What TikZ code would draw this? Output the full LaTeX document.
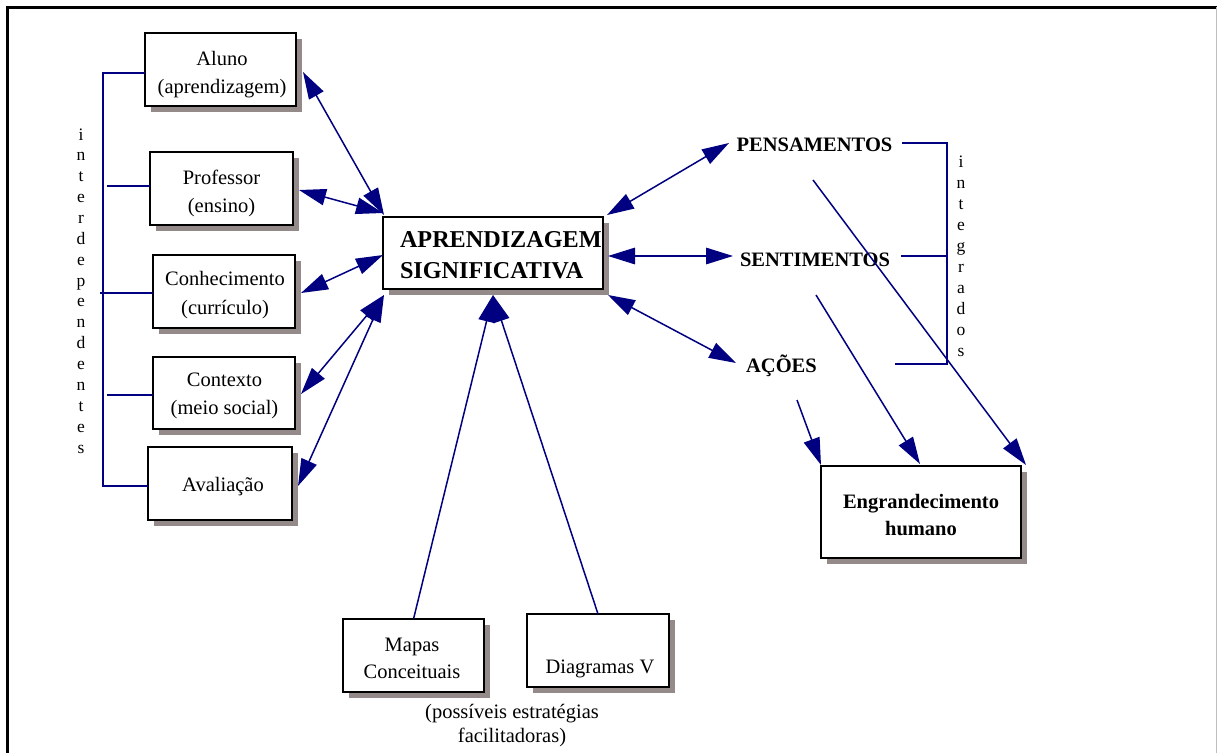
\documentclass[tikz,border=0pt]{standalone}
\usepackage{fontspec}
\setmainfont{Liberation Serif}
\usetikzlibrary{arrows.meta,calc,shadows}
\definecolor{navy}{RGB}{0,0,128}
\definecolor{shade}{RGB}{148,138,138}

\begin{document}
\begin{tikzpicture}[x=1pt,y=-1pt,
  box/.style={draw=black, line width=1.8pt, fill=white, inner sep=0pt, outer sep=0pt,
    drop shadow={shadow xshift=6pt, shadow yshift=-6pt, opacity=1, fill=shade}},
  txt/.style={inner sep=0pt, outer sep=0pt, align=center,
    font=\fontsize{20.5}{28.5}\selectfont},
  btxt/.style={inner sep=0pt, outer sep=0pt, align=center,
    font=\fontsize{20.5}{27}\selectfont\bfseries},
  vtxt/.style={inner sep=0pt, outer sep=0pt, anchor=base,
    font=\fontsize{17.5}{21}\selectfont},
  tip/.tip={Triangle[length=27pt,width=16.5pt]},
  dbl/.style={draw=navy, line width=1.5pt, tip-tip},
  sgl/.style={draw=navy, line width=1.5pt, -tip},
  brace/.style={draw=navy, line width=2pt}]

\useasboundingbox (0,0) rectangle (1217,752);

% outer frame
\draw[line width=2.2pt] (7.5,760) -- (7.5,7.5) -- (1217,7.5);
\draw[line width=1pt, black!25] (1216.5,7.5) -- (1216.5,760);

% left column of boxes
\node[box, minimum width=151, minimum height=73] (aluno) at (220.5,69.5) {};
\node[box, minimum width=143, minimum height=73] (prof)  at (221.5,188.5) {};
\node[box, minimum width=142, minimum height=73] (conh)  at (224,291.5) {};
\node[box, minimum width=142, minimum height=72] (cont)  at (224,393) {};
\node[box, minimum width=144, minimum height=73] (aval)  at (220,483.5) {};

\node[txt, anchor=north] (alunot) at (222,51) {Aluno\\(aprendizagem)};
\node[txt, anchor=north] (proft)  at (221.5,170) {Professor\\(ensino)};
\node[txt, anchor=north] (conht)  at (225,271.7) {Conhecimento\\(currículo)};
\node[txt, anchor=north] (contt)  at (224.5,372.7) {Contexto\\(meio social)};
\node[txt, anchor=base]  (avalt)  at (223,491.7) {Avaliação};

% central box
\node[box, minimum width=220, minimum height=72] (ap) at (493,253) {};
\node[inner sep=0pt, outer sep=0pt, align=left, anchor=north west,
  font=\fontsize{24.2}{31}\selectfont\bfseries] (apt) at (400,231.6)
  {APRENDIZAGEM\\SIGNIFICATIVA};

% bottom boxes and caption
\node[box, minimum width=141, minimum height=73] (mapas) at (413.5,655.5) {};
\node[box, minimum width=142, minimum height=73] (diag)  at (598,650.5) {};
\node[txt, anchor=north, font=\fontsize{20.5}{26.6}\selectfont] (mapast) at (412,638) {Mapas\\Conceituais};
\node[txt, anchor=base] (diagt) at (600,673) {Diagramas V};
\node[txt, anchor=north, font=\fontsize{20.5}{24}\selectfont] (capt) at (512,704)
  {(possíveis estratégias\\facilitadoras)};

% right side
\node[btxt, anchor=base] (pens)  at (814.5,151) {PENSAMENTOS};
\node[btxt, anchor=base] (sent)  at (815,266) {SENTIMENTOS};
\node[btxt, anchor=base] (acoes) at (781.5,372) {AÇÕES};

\node[box, minimum width=200, minimum height=92] (eng) at (921,512) {};
\node[btxt, anchor=north] (engt) at (921,494) {Engrandecimento\\humano};

% vertical labels
\foreach \c [count=\i from 0] in {i,n,t,e,r,d,e,p,e,n,d,e,n,t,e,s}
  \node[vtxt] (lv\i) at (81,140+20.87*\i) {\c};
\foreach \c [count=\i from 0] in {i,n,t,e,g,r,a,d,o,s}
  \node[vtxt] (rv\i) at (961,167+21.1*\i) {\c};

% left bracket
\draw[brace] ($(aluno.west)+(0,3.5)$) -| ($(aval.west)+(-45,2.5)$) -- ($(aval.west)+(0,2.5)$);
\draw[brace] ($(prof.west)+(0,-2.5)$) -- ++(-43,0);
\draw[brace] ($(conh.west)+(0,1.5)$) -- ++(-53,0);
\draw[brace] ($(cont.west)+(0,2)$) -- ++(-46,0);

% right bracket
\draw[brace] ($(pens.base)+(87.5,-8)$) -| ($(acoes.base)+(165.5,-8)$) -- ($(acoes.base)+(113.5,-8)$);
\draw[brace] ($(sent.base)+(86,-10)$) -- ++(46,0);

% links into the central box
\draw[dbl] ($(aluno.east)+(7,2.5)$) -- ($(ap.north west)+(1,-2)$);
\draw[dbl] ($(prof.east)+(6,1.5)$) -- ($(ap.north west)+(0,-4)$);
\draw[dbl] ($(conh.east)+(6,1.5)$) -- ($(ap.west)+(0,2)$);
\draw[dbl] ($(cont.east)+(6,1)$) -- ($(ap.south west)+(1,6)$);
\draw[dbl] ($(aval.east)+(6,2.5)$) -- ($(ap.south west)+(1,6)$);
\draw[sgl] (mapas.north) -- ($(ap.south)+(0,6)$);
\draw[sgl] (diag.north) -- ($(ap.south)+(0,6)$);

% links to the right
\draw[dbl] ($(ap.north east)+(4,-2)$) -- ($(pens.base)+(-85.5,-8)$);
\draw[dbl] ($(ap.east)+(5,3)$) -- ($(sent.base)+(-82,-10)$);
\draw[dbl] ($(ap.south east)+(5,6)$) -- ($(acoes.base)+(-45.5,-9)$);

\draw[sgl] ($(acoes.base)+(15.5,28)$) -- ($(eng.north west)+(0,-1)$);
\draw[sgl] ($(sent.base)+(1,29)$) -- ($(eng.north)+(-1,-2)$);
\draw[sgl] ($(pens.base)+(-1.5,29)$) -- ($(eng.north east)+(5,-1)$);
\end{tikzpicture}
\end{document}
